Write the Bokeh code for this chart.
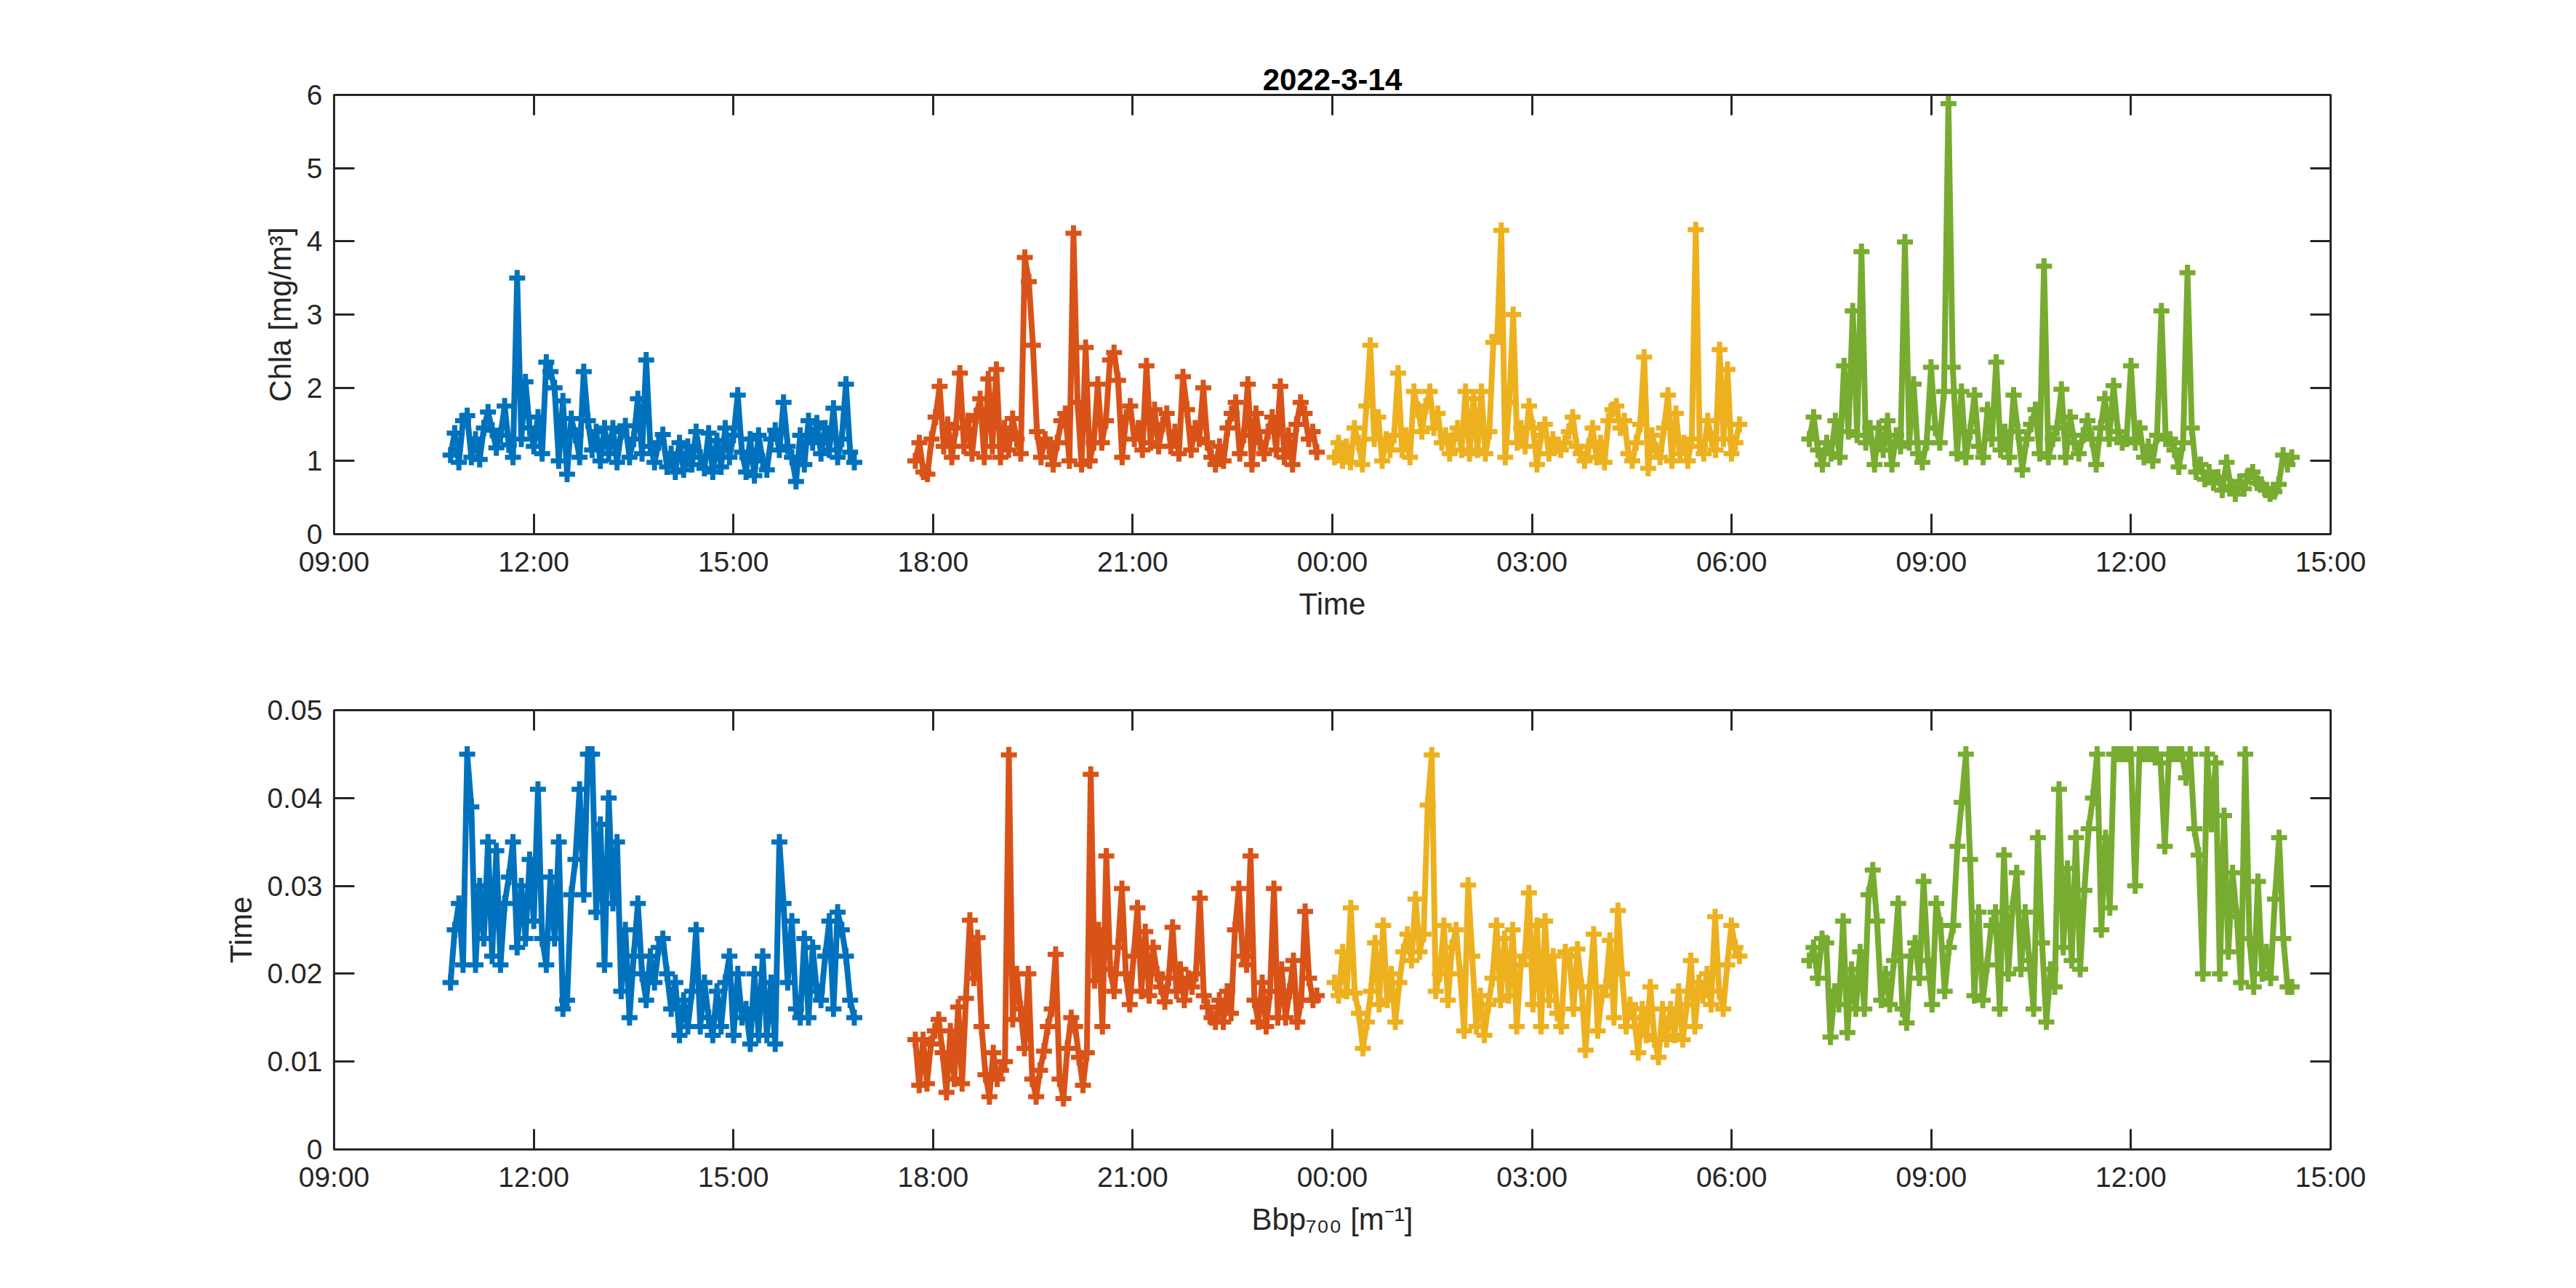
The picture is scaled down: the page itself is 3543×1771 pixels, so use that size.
import numpy as np
import pandas as pd
from bokeh.plotting import figure
from bokeh.layouts import column
from bokeh.models import (Range1d, FixedTicker, DatetimeTickFormatter, DatetimeAxis,
                          LinearAxis, CustomJSTickFormatter)
from bokeh.embed import file_html
from bokeh.resources import INLINE

# ---- data ----
title = "2022-3-14"
colors = ["#0072BD", "#D95319", "#EDB120", "#77AC30"]

# start / end of each of the four cruise legs
seg_start = ["2022-03-14 10:45", "2022-03-14 17:44", "2022-03-15 00:02", "2022-03-15 07:10"]
seg_end = ["2022-03-14 16:49", "2022-03-14 23:46", "2022-03-15 06:07", "2022-03-15 14:25"]

x_ticks = ["2022-03-14 09:00", "2022-03-14 12:00", "2022-03-14 15:00", "2022-03-14 18:00",
           "2022-03-14 21:00", "2022-03-15 00:00", "2022-03-15 03:00", "2022-03-15 06:00",
           "2022-03-15 09:00", "2022-03-15 12:00", "2022-03-15 15:00"]
chla_ticks = [0, 1, 2, 3, 4, 5, 6]
bbp_ticks = [0, 0.01, 0.02, 0.03, 0.04, 0.05]

chla_blue = [1.08, 1.38, 0.98, 1.55, 1.62, 1.05, 1.30, 1.02, 1.45, 1.67, 1.42, 1.18, 1.35, 1.75,
             1.22, 1.05, 3.50, 1.30, 2.08, 1.45, 1.20, 1.60, 1.10, 2.35, 2.22, 2.00, 1.00, 1.82,
             0.82, 1.58, 1.35, 1.05, 2.22, 1.55, 1.15, 1.40, 1.00, 1.45, 1.10, 1.45, 0.98, 1.40,
             1.48, 1.05, 1.30, 1.85, 1.10, 2.38, 1.20, 0.98, 1.25, 1.36, 0.92, 1.10, 0.85, 1.25,
             0.88, 1.20, 0.95, 1.40, 1.05, 0.90, 1.38, 0.85, 1.28, 0.92, 1.45, 1.05, 1.35, 1.90,
             1.12, 0.85, 1.30, 0.80, 1.35, 1.00, 0.88, 1.30, 1.42, 1.15, 1.80, 1.20, 1.05, 0.72,
             1.35, 0.95, 1.55, 1.25, 1.52, 1.10, 1.45, 1.15, 1.72, 1.05, 1.30, 2.05, 1.12, 0.98]
chla_orange = [1.00, 1.25, 0.85, 0.82, 1.30, 1.60, 2.02, 1.20, 1.50, 1.05, 1.45, 2.20, 1.20, 1.55,
               1.10, 1.62, 1.85, 1.05, 2.12, 1.20, 2.25, 1.05, 1.45, 1.15, 1.58, 1.30, 1.10, 3.78,
               3.45, 2.58, 1.40, 1.05, 1.30, 1.20, 0.95, 1.25, 1.55, 1.65, 1.00, 4.11, 1.80, 0.95,
               2.55, 1.00, 1.25, 2.05, 1.25, 1.55, 2.38, 2.48, 2.10, 1.05, 1.60, 1.75, 1.30, 1.45,
               1.15, 2.30, 1.25, 1.70, 1.20, 1.50, 1.65, 1.20, 1.40, 1.10, 2.15, 1.70, 1.15, 1.45,
               1.30, 2.00, 1.25, 1.05, 0.95, 1.20, 1.00, 1.45, 1.65, 1.80, 1.10, 1.35, 2.05, 0.95,
               1.65, 1.25, 1.10, 1.40, 1.60, 1.15, 2.02, 1.05, 1.35, 0.95, 1.50, 1.80, 1.65, 1.30,
               1.40, 1.12]
chla_yellow = [1.05, 1.25, 1.00, 1.20, 0.98, 1.45, 1.25, 0.95, 1.75, 2.58, 1.30, 1.60, 1.00, 1.30,
               1.15, 1.35, 2.20, 1.15, 1.35, 1.05, 1.95, 1.70, 1.40, 1.75, 1.95, 1.45, 1.65, 1.25,
               1.35, 1.10, 1.30, 1.45, 1.15, 1.95, 1.10, 1.85, 1.15, 1.95, 1.10, 1.40, 2.62, 2.70,
               4.15, 1.05, 1.80, 3.00, 1.25, 1.45, 1.20, 1.75, 1.45, 0.95, 1.35, 1.50, 1.10, 1.30,
               1.20, 1.15, 1.25, 1.40, 1.60, 1.20, 1.10, 1.00, 1.20, 1.45, 1.05, 1.25, 0.98, 1.55,
               1.70, 1.75, 1.45, 1.55, 1.10, 1.00, 1.25, 1.50, 2.42, 0.90, 1.35, 1.15, 1.05, 1.45,
               1.90, 1.00, 1.65, 1.10, 1.25, 1.00, 1.30, 4.16, 1.20, 1.10, 1.55, 1.30, 1.15, 2.52,
               1.30, 2.25, 1.10, 1.25, 1.50]
chla_green = [1.30, 1.60, 1.15, 0.95, 1.25, 1.10, 1.55, 1.05, 2.30, 1.40, 3.05, 1.35, 3.86, 1.25,
              1.45, 0.95, 1.45, 1.15, 1.55, 0.95, 1.35, 1.20, 3.99, 1.25, 2.05, 1.10, 0.98, 1.25,
              2.28, 1.45, 1.25, 1.95, 5.88, 2.28, 1.10, 1.95, 1.05, 1.40, 1.90, 1.20, 1.05, 1.70,
              1.30, 2.35, 1.15, 1.40, 1.05, 1.90, 1.40, 0.88, 1.30, 1.50, 1.70, 1.10, 3.66, 1.05,
              1.30, 1.45, 1.98, 1.05, 1.60, 1.25, 1.10, 1.35, 1.55, 1.30, 0.95, 1.45, 1.85, 1.30,
              2.03, 1.40, 1.25, 1.30, 2.30, 1.25, 1.45, 1.05, 1.20, 1.00, 1.35, 3.05, 1.30, 1.30,
              1.15, 0.92, 1.25, 3.57, 1.45, 0.85, 0.95, 0.75, 0.85, 0.70, 0.78, 0.60, 0.98, 0.65,
              0.55, 0.72, 0.62, 0.80, 0.85, 0.70, 0.68, 0.60, 0.55, 0.58, 0.68, 1.08, 0.95, 1.05]

bbp_blue = [0.019, 0.025, 0.028, 0.021, 0.045, 0.039, 0.021, 0.030, 0.024, 0.035, 0.022, 0.034,
            0.021, 0.028, 0.031, 0.035, 0.023, 0.030, 0.024, 0.033, 0.026, 0.041, 0.024, 0.021,
            0.031, 0.024, 0.035, 0.016, 0.017, 0.029, 0.033, 0.041, 0.029, 0.045, 0.045, 0.027,
            0.037, 0.021, 0.040, 0.028, 0.035, 0.018, 0.025, 0.015, 0.022, 0.028, 0.020, 0.017,
            0.022, 0.019, 0.023, 0.024, 0.020, 0.016, 0.019, 0.013, 0.017, 0.014, 0.018, 0.025,
            0.014, 0.019, 0.015, 0.013, 0.018, 0.014, 0.019, 0.022, 0.013, 0.020, 0.015, 0.016,
            0.012, 0.020, 0.013, 0.022, 0.013, 0.019, 0.012, 0.035, 0.028, 0.019, 0.026, 0.016,
            0.015, 0.024, 0.015, 0.023, 0.018, 0.017, 0.022, 0.026, 0.016, 0.027, 0.025, 0.022,
            0.017, 0.015]
bbp_orange = [0.0125, 0.0073, 0.0125, 0.0075, 0.0120, 0.0135, 0.0148, 0.0110, 0.0065, 0.0135,
              0.0080, 0.0162, 0.0075, 0.0172, 0.0261, 0.0195, 0.0241, 0.0140, 0.0085, 0.0060,
              0.0110, 0.0080, 0.0090, 0.0100, 0.0449, 0.0148, 0.0200, 0.0160, 0.0115, 0.0200,
              0.0080, 0.0060, 0.0090, 0.0112, 0.0140, 0.0160, 0.0222, 0.0080, 0.0058, 0.0115,
              0.0150, 0.0140, 0.0105, 0.0073, 0.0110, 0.0427, 0.0192, 0.0250, 0.0140, 0.0334,
              0.0205, 0.0180, 0.0230, 0.0297, 0.0200, 0.0165, 0.0220, 0.0275, 0.0180, 0.0248,
              0.0175, 0.0230, 0.0200, 0.0185, 0.0168, 0.0195, 0.0253, 0.0180, 0.0205, 0.0170,
              0.0195, 0.0185, 0.0200, 0.0286, 0.0175, 0.0162, 0.0150, 0.0145, 0.0170, 0.0145,
              0.0180, 0.0155, 0.0250, 0.0297, 0.0220, 0.0210, 0.0334, 0.0170, 0.0145, 0.0190,
              0.0140, 0.0180, 0.0297, 0.0150, 0.0205, 0.0150, 0.0180, 0.0215, 0.0145, 0.0170,
              0.0271, 0.0195, 0.0170, 0.0175]
bbp_yellow = [0.0190, 0.0175, 0.0225, 0.0180, 0.0275, 0.0178, 0.0155, 0.0115, 0.0145, 0.0180,
              0.0235, 0.0165, 0.0255, 0.0170, 0.0200, 0.0145, 0.0190, 0.0225, 0.0245, 0.0215,
              0.0285, 0.0225, 0.0245, 0.0392, 0.0449, 0.0180, 0.0200, 0.0255, 0.0170, 0.0230,
              0.0250, 0.0200, 0.0135, 0.0301, 0.0220, 0.0140, 0.0175, 0.0130, 0.0165, 0.0195,
              0.0255, 0.0170, 0.0240, 0.0175, 0.0250, 0.0140, 0.0210, 0.0220, 0.0292, 0.0165,
              0.0255, 0.0140, 0.0260, 0.0170, 0.0220, 0.0155, 0.0140, 0.0225, 0.0220, 0.0160,
              0.0228, 0.0185, 0.0113, 0.0185, 0.0245, 0.0135, 0.0175, 0.0185, 0.0238, 0.0150,
              0.0272, 0.0200, 0.0140, 0.0165, 0.0150, 0.0110, 0.0160, 0.0130, 0.0185, 0.0125,
              0.0105, 0.0160, 0.0125, 0.0160, 0.0130, 0.0180, 0.0125, 0.0165, 0.0215, 0.0140,
              0.0190, 0.0175, 0.0200, 0.0165, 0.0265, 0.0180, 0.0160, 0.0210, 0.0255, 0.0230,
              0.0220]
bbp_green = [0.0215, 0.0230, 0.0195, 0.0240, 0.0235, 0.0128, 0.0180, 0.0165, 0.0260, 0.0133,
             0.0205, 0.0160, 0.0225, 0.0160, 0.0290, 0.0318, 0.0260, 0.0170, 0.0200, 0.0165,
             0.0215, 0.0280, 0.0160, 0.0144, 0.0220, 0.0235, 0.0195, 0.0305, 0.0215, 0.0165,
             0.0280, 0.0255, 0.0180, 0.0230, 0.0255, 0.0345, 0.0395, 0.0450, 0.0330, 0.0175,
             0.0270, 0.0170, 0.0210, 0.0255, 0.0270, 0.0160, 0.0335, 0.0200, 0.0275, 0.0315,
             0.0205, 0.0270, 0.0215, 0.0160, 0.0355, 0.0235, 0.0145, 0.0205, 0.0185, 0.0410,
             0.0230, 0.0320, 0.0215, 0.0355, 0.0205, 0.0295, 0.0365, 0.0400, 0.0450, 0.0250,
             0.0355, 0.0275, 0.0450, 0.0450, 0.0450, 0.0450, 0.0450, 0.0300, 0.0450, 0.0450,
             0.0450, 0.0450, 0.0450, 0.0440, 0.0345, 0.0450, 0.0450, 0.0450, 0.0450, 0.0423,
             0.0450, 0.0365, 0.0335, 0.0200, 0.0450, 0.0370, 0.0440, 0.0200, 0.0380, 0.0225,
             0.0315, 0.0265, 0.0190, 0.0450, 0.0240, 0.0185, 0.0305, 0.0200, 0.0225, 0.0195,
             0.0285, 0.0355, 0.0240, 0.0185, 0.0185]

chla_series = [chla_blue, chla_orange, chla_yellow, chla_green]
bbp_series = [bbp_blue, bbp_orange, bbp_yellow, bbp_green]

FONT = "Liberation Sans"
INK = "#262626"


def seg_times(i, n):
    a = pd.Timestamp(seg_start[i]).value
    b = pd.Timestamp(seg_end[i]).value
    return pd.to_datetime(np.linspace(a, b, n))


def style_axis(ax):
    ax.major_tick_in = 28
    ax.major_tick_out = 0
    ax.minor_tick_in = 0
    ax.minor_tick_out = 0
    ax.axis_line_color = INK
    ax.axis_line_width = 3
    ax.major_tick_line_color = INK
    ax.major_tick_line_width = 3
    ax.major_label_text_font = FONT
    ax.major_label_text_font_size = "39px"
    ax.major_label_text_color = INK
    ax.major_label_standoff = 16
    ax.axis_label_text_font = FONT
    ax.axis_label_text_font_size = "42px"
    ax.axis_label_text_font_style = "normal"
    ax.axis_label_text_color = INK
    ax.axis_label_standoff = 10


def make_panel(series, ymax, yticks, xlabel, ylabel, top, bottom, ytick_fmt):
    p = figure(x_axis_type="datetime", output_backend="svg", toolbar_location=None,
               frame_width=2746, frame_height=604,
               min_border_left=459, min_border_right=300,
               min_border_top=top, min_border_bottom=bottom,
               x_range=Range1d(pd.Timestamp(x_ticks[0]), pd.Timestamp(x_ticks[-1])),
               y_range=Range1d(0, ymax))
    p.grid.visible = False
    p.outline_line_color = INK
    p.outline_line_width = 3
    p.background_fill_color = "white"
    p.border_fill_color = "white"

    xt = [pd.Timestamp(t).value // 10**6 for t in x_ticks]
    fmt = DatetimeTickFormatter(hours="%H:%M", hourmin="%H:%M", days="%H:%M",
                                minutes="%H:%M", minsec="%H:%M")
    p.xaxis[0].ticker = FixedTicker(ticks=xt)
    p.xaxis[0].formatter = fmt
    p.yaxis[0].ticker = FixedTicker(ticks=yticks)
    p.yaxis[0].formatter = ytick_fmt
    p.xaxis[0].axis_label = xlabel
    p.yaxis[0].axis_label = ylabel

    blank = "return ''"
    p.add_layout(DatetimeAxis(ticker=FixedTicker(ticks=xt),
                              formatter=CustomJSTickFormatter(code=blank)), "above")
    p.add_layout(LinearAxis(ticker=FixedTicker(ticks=yticks),
                            formatter=CustomJSTickFormatter(code=blank)), "right")
    for ax in p.xaxis + p.yaxis:
        style_axis(ax)

    for i, vals in enumerate(series):
        t = seg_times(i, len(vals))
        p.line(t, vals, line_color=colors[i], line_width=8)
        p.scatter(t, vals, marker="cross", size=22, line_width=7, line_color=colors[i])
    return p


p1 = make_panel(chla_series, 6, chla_ticks, "Time", "Chla [mg/m³]", 130, 116,
                CustomJSTickFormatter(code="return tick.toString()"))
p1.title.text = title
p1.title.align = "center"
p1.title.text_font = FONT
p1.title.text_font_size = "42px"
p1.title.text_font_style = "bold"
p1.title.text_color = "black"
p1.title.standoff = 14

p2 = make_panel(bbp_series, 0.05, bbp_ticks, "Bbp₇₀₀ [m⁻¹]", "Time", 120, 164,
                CustomJSTickFormatter(code="return Number(tick.toFixed(2)).toString()"))

p = column(p1, p2, spacing=0)
open("out.html", "w").write(file_html(p, INLINE))
